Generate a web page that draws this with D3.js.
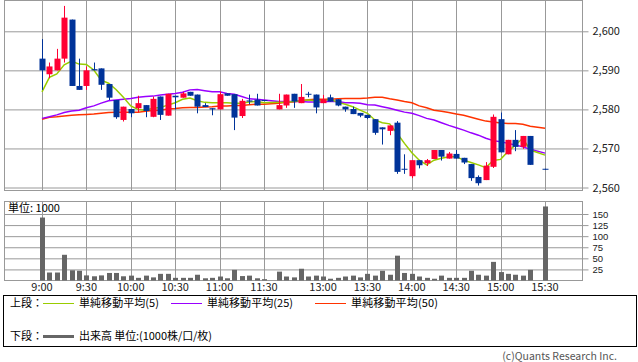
<!DOCTYPE html>
<html>
<head>
<meta charset="utf-8">
<script src="https://cdn.jsdelivr.net/npm/d3@7"></script>
<style>
	body { margin: 0; background: #fff; }
	svg { display: block; font-family: "Noto Sans CJK JP", "Noto Sans", sans-serif; }
</style>
</head>
<body>
<div id="chart"></div>
<script>
(function(){
	// bar times (5 min); 15:25 has no trade, lunch gap after 11:30
	var times = ['9:00','9:05','9:10','9:15','9:20','9:25','9:30','9:35','9:40','9:45','9:50','9:55',
		'10:00','10:05','10:10','10:15','10:20','10:25','10:30','10:35','10:40','10:45','10:50','10:55',
		'11:00','11:05','11:10','11:15','11:20','11:25','11:30',
		'12:30','12:35','12:40','12:45','12:50','12:55','13:00','13:05','13:10','13:15','13:20','13:25',
		'13:30','13:35','13:40','13:45','13:50','13:55','14:00','14:05','14:10','14:15','14:20','14:25',
		'14:30','14:35','14:40','14:45','14:50','14:55','15:00','15:05','15:10','15:15','15:20','15:30'];

	var open  = [2593,2589,2590,2593,2603,2586,2586,2590.3,2590.5,2586.5,2582.4,2577.3,2580.1,2580.3,2581.1,2578.1,2583.3,2578.4,2583.5,2583,2584.5,2583.8,2581.1,2580.3,2580,2584.1,2583.9,2578.3,2582.3,2582.5,2582.4,
		2580,2581,2584,2581.6,2584,2583.8,2581.6,2583.1,2582.6,2580.7,2580.1,2579.1,2578.6,2577.5,2575.4,2574.5,2576.6,2564.8,2562.9,2567,2566.2,2567.3,2569.6,2567.4,2568.6,2567.6,2566,2562.7,2561.9,2565.3,2577.5,2568.5,2572.2,2570.4,2573.2,2564.8];
	var high  = [2598,2592,2595.5,2606.5,2603,2593,2591,2592,2590.5,2586.5,2582.4,2580.7,2580.1,2583.5,2581.1,2583.3,2583.3,2584,2583.5,2584.5,2584.5,2583.8,2581.6,2580.3,2584.6,2584.1,2583.9,2582.7,2583.8,2584,2582.4,
		2584,2583.8,2584,2586.5,2584.5,2583.8,2583.7,2583.8,2582.6,2580.7,2580.7,2579.1,2578.6,2577.5,2575.4,2575.9,2577,2568.5,2567,2567,2567.3,2569.6,2569.6,2569.1,2569.6,2567.6,2566,2563.1,2566.5,2578.7,2579.2,2572.2,2574.7,2573.2,2573.2,2564.8];
	var low   = [2585,2588,2590,2592,2586,2585,2585,2590,2585,2582.4,2577.6,2576.9,2578,2579.3,2578,2578,2577.3,2578.4,2580,2583,2583.5,2579,2580.6,2578.5,2580,2583.5,2574.7,2577.8,2581.3,2581,2582.2,
		2580,2580.4,2580.4,2581.6,2583.1,2579,2581.6,2582,2580.8,2579.4,2578.8,2578,2577.5,2573.5,2571,2573.4,2563.5,2563.5,2562.4,2564.9,2565.5,2567.3,2566.9,2567.4,2567.4,2566,2561.7,2560.5,2561.9,2565,2569,2568.5,2569.3,2569.9,2565.8,2564.6];
	var close = [2590,2591,2593,2603.5,2586,2585,2590,2590,2586.3,2583,2578,2580.7,2579,2581.6,2579.6,2582.7,2578.6,2584,2583.1,2584.1,2583.5,2580.7,2580.6,2580,2583.9,2583.5,2577.9,2582.2,2582,2581,2582.2,
		2581.1,2583.8,2582,2583.2,2583.8,2580.5,2582.6,2582,2581,2580,2578.8,2578.4,2577.8,2574,2574.9,2575.9,2564,2564.6,2567,2565.7,2567,2569.6,2567.9,2568.7,2567.4,2566.4,2562.4,2561.1,2565.6,2578.1,2569,2572.2,2570.4,2573.2,2565.8,2564.6];

	var volume = [142,18,18,58,23,22,11.5,9.5,11.5,17,17,9.5,11,6,11,7,15,15,6,6,6,13,5,6,9,5,24,10,11,5,3,
		20,9,7,26.5,9,11,9,4,6,9,11,7,15,11,22,13,56,17,15,9,6,4,11,6,6,6,22,13,11,42,19,15,13,11,24,167];

	var ma5  = [2584.5,2588.2,2589.1,2591.4,2592.4,2591.6,2591.5,2590.1,2587.5,2586.7,2585.1,2583.1,2580.9,2580,2579.8,2580.3,2580.5,2581.1,2581.7,2582.6,2582.9,2582.2,2581.8,2581.7,2581.7,2581.7,2581.6,2581.6,2581.9,2582,2581.7,
		2581.8,2581.8,2582,2582.2,2582.4,2582.2,2582.2,2582.6,2581.8,2581.3,2580.7,2579.8,2579,2577.3,2576.6,2576.3,2573.9,2571.3,2568.9,2567,2565.8,2567,2567.5,2567.9,2567.9,2567,2566.4,2565.8,2565.1,2566.9,2567.2,2569.2,2570.9,2572.6,2569.6,2568.3];
	var ma25 = [2577.7,2578.1,2578.6,2579.2,2579.6,2579.8,2580.4,2580.9,2581.6,2582.2,2582.4,2582.6,2582.8,2583.1,2583.3,2583.4,2583.7,2583.9,2584.1,2584.4,2585,2585.1,2584.8,2584.5,2584.5,2584.1,2583.9,2583.3,2582.7,2582.6,2582.4,
		2582,2582,2582,2582,2581.9,2581.9,2581.9,2582.1,2582,2581.7,2581.7,2581.6,2581.2,2581.1,2580.7,2580.3,2579.8,2579.3,2579,2578.4,2577.7,2577.3,2576.6,2575.9,2575.3,2574.7,2574,2573.4,2572.6,2572,2571.7,2571.3,2570.9,2570.4,2569.8,2568.8];
	var ma50 = [2577.5,2578,2578.1,2578.3,2578.5,2578.6,2578.7,2578.8,2579,2579.2,2579.3,2579.3,2579.3,2579.3,2579.5,2579.7,2579.8,2580.1,2580.2,2580.4,2580.5,2580.5,2580.6,2580.7,2580.9,2580.9,2581,2581,2581.2,2581.3,2581.3,
		2581.6,2581.8,2581.9,2582.2,2582.5,2582.6,2582.6,2582.6,2582.7,2582.8,2582.8,2582.8,2582.9,2583.1,2583.1,2582.7,2582.4,2582,2581.7,2580.9,2580.4,2579.8,2579.5,2579.2,2578.8,2578.5,2578,2577.5,2577,2576.8,2576.5,2576.4,2576.4,2576.2,2575.7,2575.2];

	var timeTicks = ['9:00','9:30','10:00','10:30','11:00','11:30','13:00','13:30','14:00','14:30','15:00','15:30'];
	var priceTicks = [2560, 2570, 2580, 2590, 2600];
	var volTicks = [25, 50, 75, 100, 125, 150];

	var legendItems = [
		{label: '単純移動平均(5)', color: '#99cc00', x: 43, w: 80},
		{label: '単純移動平均(25)', color: '#9900ff', x: 171, w: 86},
		{label: '単純移動平均(50)', color: '#ff3300', x: 315, w: 87}
	];

	// slot on the time axis: morning from 9:00, afternoon from 12:30 after one empty slot
	var slotOf = function(t) {
		var p = t.split(':'), m = (+p[0]) * 60 + (+p[1]);
		return m <= 690 ? (m - 540) / 5 : 32 + (m - 750) / 5;
	};

	var bars = times.map(function(t, i) {
		return {t: t, s: slotOf(t), o: open[i], h: high[i], l: low[i], c: close[i], v: volume[i],
			m5: ma5[i], m25: ma25[i], m50: ma50[i]};
	});

	var width = 638, height = 362;
	var left = 4.5, right = 582.5;
	var pTop = 0.5, pBot = 190.5, vTop = 201.5, vBot = 280.5;
	var grid = '#999';

	var svg = d3.select('#chart').append('svg')
		.attr('width', width)
		.attr('height', height);

	var x = d3.scaleLinear().domain([0, 68]).range([42, 545]);
	var y = d3.scaleLinear().domain([2560, 2600]).range([187.5, 31.3]);
	var yv = d3.scaleLinear().domain([0, 150]).range([280.5, 214]);

	var px = function(v) { return Math.round(v) + 0.5; };

	// panel frames
	[[pTop, pBot], [vTop, vBot]].forEach(function(p) {
		svg.append('rect')
			.attr('x', left).attr('y', p[0])
			.attr('width', right - left).attr('height', p[1] - p[0])
			.attr('fill', 'none').attr('stroke', grid);
	});

	// vertical grid
	[[pTop, pBot], [vTop, vBot]].forEach(function(p) {
		svg.append('g').selectAll('line')
			.data(timeTicks)
			.enter().append('line')
				.attr('x1', function(d) { return px(x(slotOf(d))); })
				.attr('x2', function(d) { return px(x(slotOf(d))); })
				.attr('y1', p[0]).attr('y2', p[1])
				.attr('stroke', grid);
	});

	// right axes with grid ticks
	var styleAxis = function(size, family) {
		return function(g) {
			g.select('.domain').remove();
			g.selectAll('.tick line').attr('stroke', grid);
			g.selectAll('.tick text').attr('fill', '#222').style('font-size', size)
				.style('font-family', family);
		};
	};

	svg.append('g')
		.attr('transform', 'translate(' + left + ',0)')
		.call(d3.axisRight(y).tickValues(priceTicks).tickFormat(d3.format(','))
			.tickSize(right + 6 - left).tickPadding(4))
		.call(styleAxis('11px', '"Noto Sans CJK JP", sans-serif'));

	svg.append('g')
		.attr('transform', 'translate(' + left + ',0)')
		.call(d3.axisRight(yv).tickValues(volTicks).tickSize(right + 6 - left).tickPadding(4))
		.call(styleAxis('9.5px', '"Liberation Sans", Arial, sans-serif'));

	// moving averages
	var line = function(key) {
		return d3.line().x(function(d) { return x(d.s); }).y(function(d) { return y(d[key]); });
	};
	[['m50', legendItems[2].color], ['m25', legendItems[1].color], ['m5', legendItems[0].color]].forEach(function(m) {
		svg.append('path')
			.datum(bars)
			.attr('d', line(m[0]))
			.attr('fill', 'none')
			.attr('stroke', m[1])
			.attr('stroke-width', 1.5);
	});

	// candles
	var candle = svg.append('g').selectAll('g')
		.data(bars)
		.enter().append('g')
			.attr('fill', function(d) { return d.c > d.o ? '#ff0033' : '#003399'; })
			.attr('stroke', 'none');

	candle.append('rect')
		.attr('x', function(d) { return Math.round(x(d.s)); })
		.attr('width', 1)
		.attr('y', function(d) { return y(d.h); })
		.attr('height', function(d) { return Math.max(1, y(d.l) - y(d.h)); });

	candle.append('rect')
		.attr('x', function(d) { return Math.round(x(d.s)) - 2.5; })
		.attr('width', 6)
		.attr('y', function(d) { return y(Math.max(d.o, d.c)); })
		.attr('height', function(d) { return Math.max(1, Math.abs(y(d.o) - y(d.c))); });

	// volume
	svg.append('g').selectAll('rect')
		.data(bars)
		.enter().append('rect')
			.attr('x', function(d) { return Math.round(x(d.s)) - 2; })
			.attr('width', 5)
			.attr('y', function(d) { return yv(d.v); })
			.attr('height', function(d) { return yv(0) - yv(d.v); })
			.attr('fill', '#666');

	svg.append('text')
		.attr('x', 8).attr('y', 212)
		.style('font-size', '11px')
		.text('単位: 1000');

	// time labels
	svg.append('g').selectAll('text')
		.data(timeTicks)
		.enter().append('text')
			.attr('x', function(d) { return x(slotOf(d)); })
			.attr('y', 291)
			.attr('text-anchor', 'middle')
			.style('font-size', '11px')
			.attr('fill', '#222')
			.text(function(d) { return d; });

	// legend
	var lg = svg.append('g');
	lg.append('rect')
		.attr('x', 3.5).attr('y', 295.5).attr('width', 633).attr('height', 51)
		.attr('fill', 'none').attr('stroke', '#000');
	lg.append('text').attr('x', 10).attr('y', 307).style('font-size', '11px').text('上段：');
	legendItems.forEach(function(it) {
		lg.append('line')
			.attr('x1', it.x).attr('x2', it.x + 31)
			.attr('y1', 303.5).attr('y2', 303.5)
			.attr('stroke', it.color);
		lg.append('text')
			.attr('x', it.x + 36).attr('y', 307)
			.attr('textLength', it.w)
			.attr('lengthAdjust', 'spacing')
			.style('font-size', '11px')
			.text(it.label);
	});
	lg.append('text').attr('x', 10).attr('y', 340).style('font-size', '11px').text('下段：');
	lg.append('line')
		.attr('x1', 43).attr('x2', 74).attr('y1', 336.5).attr('y2', 336.5)
		.attr('stroke', '#666').attr('stroke-width', 3);
	lg.append('text').attr('x', 79).attr('y', 340)
		.attr('textLength', 133).attr('lengthAdjust', 'spacing')
		.style('font-size', '11px').text('出来高 単位:(1000株/口/枚)');

	svg.append('text')
		.attr('x', 617).attr('y', 360)
		.attr('text-anchor', 'end')
		.attr('fill', '#555')
		.style('font-size', '10.5px')
		.text('(c)Quants Research Inc.');
})();
</script>
</body>
</html>
